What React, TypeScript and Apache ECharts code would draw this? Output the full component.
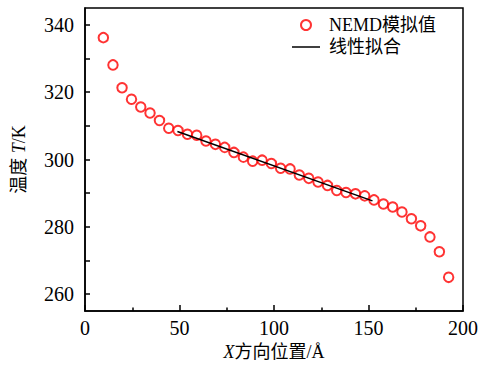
import React, { useEffect, useRef } from "react";
import * as echarts from "echarts";

const xPositions = [
  9.7, 14.8, 19.6, 24.6, 29.5, 34.4, 39.4, 44.3, 49.2, 54.2, 59.1, 64.0, 69.0,
  73.9, 78.8, 83.8, 88.7, 93.7, 98.6, 103.5, 108.5, 113.4, 118.4, 123.3, 128.3,
  133.2, 138.1, 143.1, 148.0, 152.9, 157.9, 162.8, 167.7, 172.7, 177.6, 182.5,
  187.5, 192.4,
];
const temperatures = [
  336.2, 328.1, 321.3, 317.9, 315.6, 313.8, 311.6, 309.3, 308.6, 307.5, 307.2,
  305.5, 304.5, 303.6, 302.1, 300.7, 299.5, 299.8, 298.8, 297.4, 297.2, 295.4,
  294.4, 293.3, 292.3, 290.8, 290.2, 289.8, 289.2, 288.0, 286.8, 285.9, 284.4,
  282.4, 280.3, 277.0, 272.6, 265.0,
];
const fitX = [48.9, 152.1];
const fitY = [308.3, 287.7];
const yLabelValues = [260, 280, 300, 320, 340];
const yTickValues = [260, 270, 280, 290, 300, 310, 320, 330, 340];
const seriesNames = ["NEMD模拟值", "线性拟合"];

const FONT = "'Liberation Serif', 'DejaVu Serif', 'Noto Sans CJK SC', serif";

export default function App() {
  const ref = useRef<HTMLDivElement>(null);
  useEffect(() => {
    if (!ref.current) return;
    const chart = echarts.init(ref.current, null, { renderer: "svg" });
    chart.setOption({
      animation: false,
      backgroundColor: "#fff",
      grid: {
        left: 85,
        right: 15,
        top: 8,
        bottom: 56,
        show: true,
        borderColor: "#000",
        borderWidth: 1.5,
        containLabel: false,
        outerBoundsMode: "none",
      },
      legend: {
        orient: "vertical",
        left: 287,
        top: 11,
        itemWidth: 28,
        itemHeight: 10,
        itemGap: 4,
        textStyle: {
          fontFamily: FONT,
          fontSize: 18,
          color: "#000",
          padding: [0, 0, 0, 4],
        },
        data: [
          { name: seriesNames[0] },
          { name: seriesNames[1], icon: "path://M0 0 H28 V1.5 H0 Z" },
        ],
      },
      xAxis: {
        type: "value",
        min: 0,
        max: 200,
        interval: 50,
        name: "{i|X}方向位置/Å",
        nameLocation: "middle",
        nameGap: 31,
        nameTextStyle: {
          fontFamily: FONT,
          fontSize: 18,
          color: "#000",
          rich: {
            i: { fontFamily: FONT, fontSize: 18, fontStyle: "italic", color: "#000" },
          },
        },
        axisLine: { lineStyle: { color: "#000", width: 1.5 } },
        axisTick: { inside: true, length: 6, lineStyle: { color: "#000", width: 1.5 } },
        minorTick: { show: true, splitNumber: 2, length: 3.5, lineStyle: { color: "#000", width: 1.5 } },
        axisLabel: { fontFamily: FONT, fontSize: 20, color: "#000", margin: 7 },
        splitLine: { show: false },
      },
      yAxis: {
        type: "value",
        min: 255,
        max: 345,
        name: "温度 {i|T}/K",
        nameLocation: "middle",
        nameGap: 57,
        nameTextStyle: {
          fontFamily: FONT,
          fontSize: 18,
          color: "#000",
          rich: {
            i: { fontFamily: FONT, fontSize: 18, fontStyle: "italic", color: "#000" },
          },
        },
        axisLine: { lineStyle: { color: "#000", width: 1.5 } },
        axisTick: {
          inside: true,
          length: 5,
          customValues: yTickValues,
          lineStyle: { color: "#000", width: 1.5 },
        },
        axisLabel: {
          fontFamily: FONT,
          fontSize: 20,
          color: "#000",
          margin: 11,
          customValues: yLabelValues,
        },
        splitLine: { show: false },
      },
      series: [
        {
          name: seriesNames[0],
          type: "scatter",
          symbol: "emptyCircle",
          symbolSize: 9.5,
          itemStyle: { color: "#ff0000", borderColor: "#ff0000", borderWidth: 1.5 },
          data: xPositions.map((x, i) => [x, temperatures[i]]),
          z: 2,
        },
        {
          name: seriesNames[1],
          type: "line",
          symbol: "none",
          lineStyle: { color: "#000", width: 1.5 },
          itemStyle: { color: "#000" },
          data: fitX.map((x, i) => [x, fitY[i]]),
          z: 3,
        },
      ],
    });
    return () => chart.dispose();
  }, []);
  return (
    <div
      ref={ref}
      style={{ position: "absolute", left: 0, top: 0, width: 478, height: 367 }}
    />
  );
}
